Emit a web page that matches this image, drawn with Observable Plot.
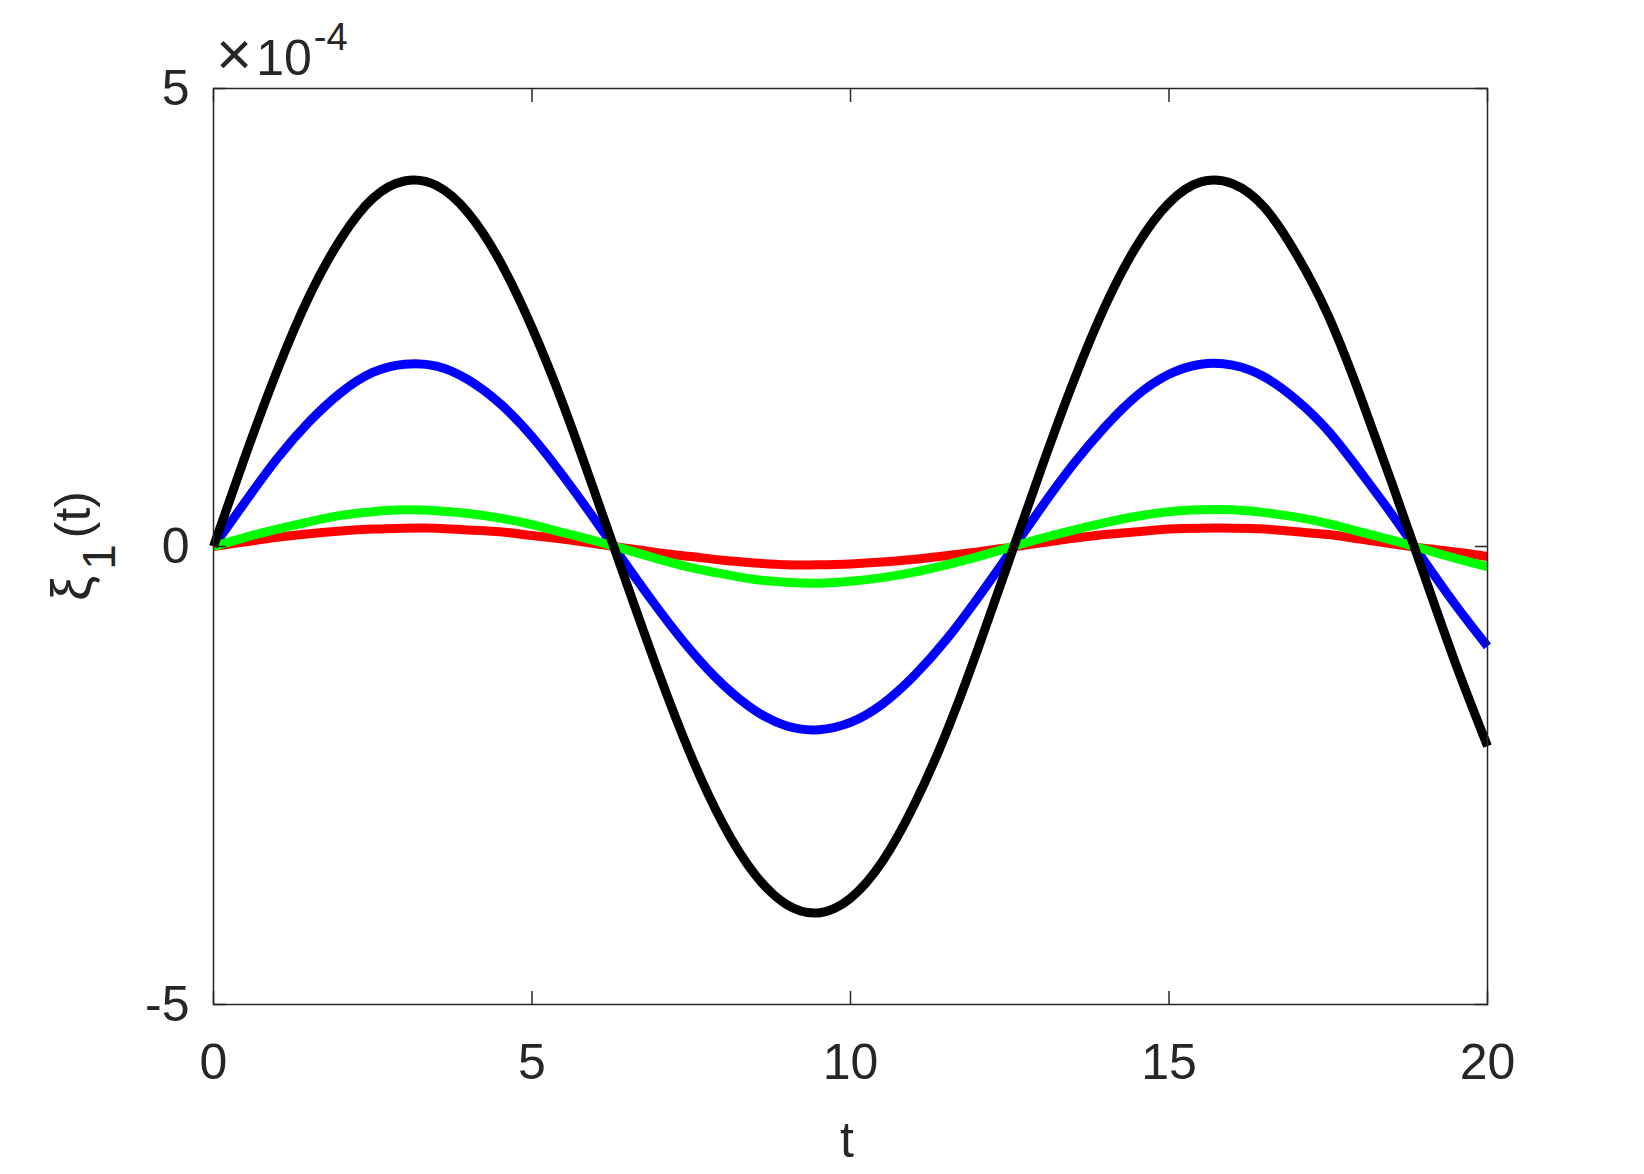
<!DOCTYPE html>
<html>
<head>
<meta charset="utf-8">
<script src="https://cdn.jsdelivr.net/npm/d3@7"></script>
<script src="https://cdn.jsdelivr.net/npm/@observablehq/plot@0.6"></script>
<style>
  html, body { margin: 0; padding: 0; background: #fff; overflow: hidden; }
  #chart { width: 1644px; height: 1174px; }
</style>
</head>
<body>
<div id="chart"></div>
<script>
// time samples
const t = [0,0.5,1,1.5,2,2.5,3,3.5,4,4.5,5,5.5,6,6.5,7,7.5,8,8.5,9,9.5,10,10.5,11,11.5,12,12.5,13,13.5,14,14.5,15,15.5,16,16.5,17,17.5,18,18.5,19,19.5,20];
// series values, in units of 1e-4
const black = [0,0.99,1.92,2.73,3.36,3.80,3.99,3.94,3.64,3.11,2.39,1.53,0.56,-0.43,-1.40,-2.29,-3.03,-3.58,-3.91,-4.00,-3.84,-3.44,-2.82,-2.04,-1.12,-0.13,0.86,1.80,2.63,3.29,3.75,3.98,3.96,3.70,3.19,2.52,1.65,0.69,-0.30,-1.28,-2.18];
const blue = [0,0.49,0.96,1.36,1.68,1.90,1.99,1.97,1.82,1.56,1.20,0.76,0.28,-0.22,-0.70,-1.14,-1.51,-1.79,-1.96,-2.00,-1.92,-1.72,-1.41,-1.02,-0.56,-0.07,0.43,0.90,1.31,1.65,1.88,1.99,1.98,1.85,1.60,1.26,0.82,0.35,-0.15,-0.64,-1.09];
const green = [0,0.10,0.19,0.27,0.34,0.38,0.40,0.39,0.36,0.31,0.24,0.15,0.06,-0.04,-0.14,-0.23,-0.30,-0.36,-0.39,-0.40,-0.38,-0.34,-0.28,-0.20,-0.11,-0.01,0.09,0.18,0.26,0.33,0.38,0.40,0.40,0.37,0.32,0.25,0.16,0.07,-0.03,-0.13,-0.22];
const red = [0,0.05,0.10,0.14,0.17,0.19,0.20,0.20,0.18,0.16,0.12,0.08,0.03,-0.02,-0.07,-0.11,-0.15,-0.18,-0.20,-0.20,-0.19,-0.17,-0.14,-0.10,-0.06,-0.01,0.04,0.09,0.13,0.16,0.19,0.20,0.20,0.19,0.16,0.13,0.08,0.03,-0.02,-0.06,-0.11];

const xTicks = [0,5,10,15,20];
const yTicks = [-5,0,5];
const yTickLabels = ["-5","0","5"];
const xLabel = "t";
const exponentLabel = "-4";

// drawing order: blue, red, green, black (black on top)
const seriesList = [
  {name: "blue", values: blue, color: "#0000ff"},
  {name: "red", values: red, color: "#ff0000"},
  {name: "green", values: green, color: "#00ff00"},
  {name: "black", values: black, color: "#000000"}
];

const ink = "#262626";
const font = "'Liberation Sans', Arial, Helvetica, sans-serif";

const lineMarks = seriesList.map(s =>
  Plot.line(t.map((tt, i) => ({t: tt, v: s.values[i]})), {
    x: "t", y: "v", stroke: s.color, strokeWidth: 9,
    curve: "natural", strokeLinecap: "butt", strokeLinejoin: "round"
  })
);

const noText = () => "";

const plot = Plot.plot({
  width: 1644,
  height: 1174,
  marginLeft: 213,
  marginRight: 157,
  marginTop: 88,
  marginBottom: 170,
  style: {fontFamily: font, color: ink, background: "#fff", overflow: "visible"},
  x: {domain: [0, 20], label: null},
  y: {domain: [-5, 5], label: null},
  marks: [
    ...lineMarks,
    // inward tick marks on all four sides
    Plot.axisX({anchor: "bottom", ticks: xTicks, tickSize: -13, tickFormat: noText, label: null, stroke: ink, strokeWidth: 1.5}),
    Plot.axisX({anchor: "top", ticks: xTicks, tickSize: -13, tickFormat: noText, label: null, stroke: ink, strokeWidth: 1.5}),
    Plot.axisY({anchor: "left", ticks: yTicks, tickSize: -13, tickFormat: noText, label: null, stroke: ink, strokeWidth: 1.5}),
    Plot.axisY({anchor: "right", ticks: yTicks, tickSize: -13, tickFormat: noText, label: null, stroke: ink, strokeWidth: 1.5}),
    // tick labels
    Plot.axisX({anchor: "bottom", ticks: xTicks, tickSize: 0, tickPadding: 39, fontSize: 50, fill: ink, label: null, lineAnchor: "top"}),
    Plot.axisY({anchor: "left", ticks: yTicks, tickSize: 0, tickPadding: 24, fontSize: 50, fill: ink, label: null,
      tickFormat: d => yTickLabels[yTicks.indexOf(d)]}),
    Plot.frame({stroke: ink, strokeWidth: 1.5})
  ]
});

document.getElementById("chart").appendChild(plot);

const svg = d3.select(plot);
// x axis label
svg.append("text")
  .attr("x", 847).attr("y", 1157)
  .attr("text-anchor", "middle")
  .attr("font-family", font).attr("font-size", 50).attr("fill", ink)
  .text(xLabel);

// y axis label: ξ_1(t)
const yl = svg.append("text")
  .attr("transform", "translate(90,546) rotate(-90)")
  .attr("text-anchor", "middle")
  .attr("font-family", font).attr("font-size", 50).attr("fill", ink);
yl.append("tspan").attr("font-size", 56).text("ξ");
yl.append("tspan").attr("font-size", 46).attr("dx", 6).attr("dy", 25).text("1");
yl.append("tspan").attr("dx", 6).attr("dy", -25).text("(t)");

// exponent annotation ×10^-4
const ex = svg.append("text")
  .attr("x", 216).attr("y", 75)
  .attr("text-anchor", "start")
  .attr("font-family", font).attr("font-size", 50).attr("fill", ink);
ex.append("tspan").attr("font-size", 62).text("×");
ex.append("tspan").attr("dx", 4).text("10");
ex.append("tspan").attr("font-size", 38).attr("dx", 2).attr("dy", -25).text(exponentLabel);
</script>
</body>
</html>
